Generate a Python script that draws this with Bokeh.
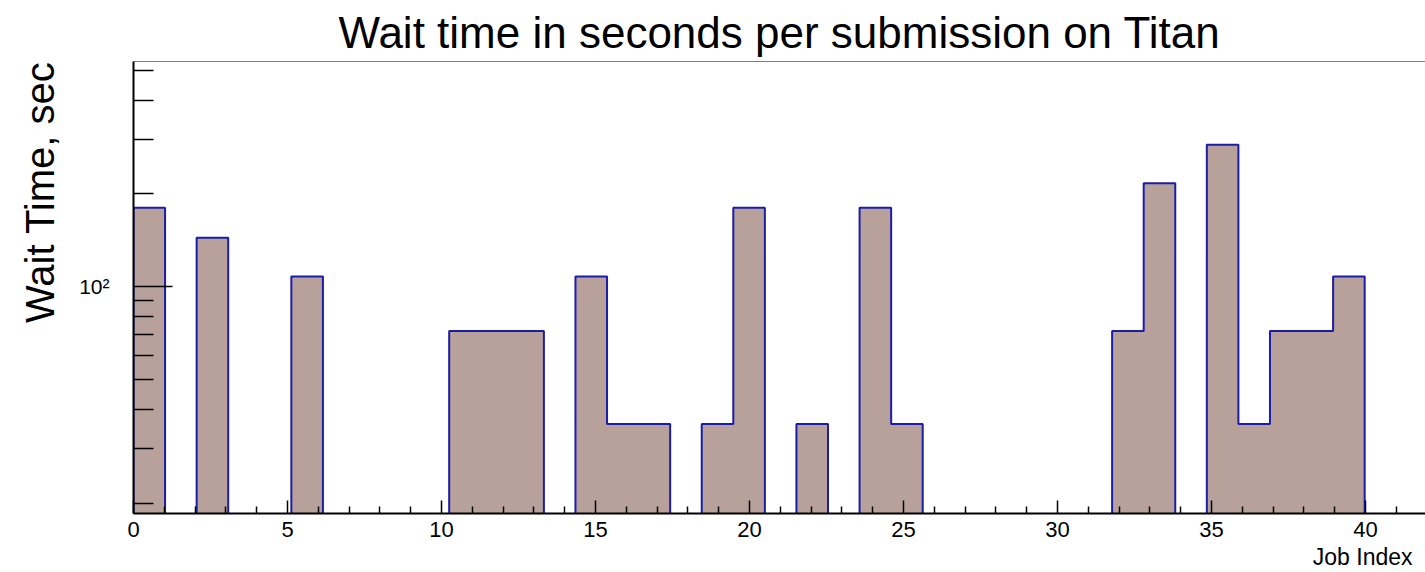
from bokeh.plotting import figure
from bokeh.models import FixedTicker, Range1d, Span, Title
from bokeh.embed import file_html
from bokeh.resources import INLINE

# Histogram: 40 bins spanning job index 0..41, wait time per bin in seconds (0 = empty)
bin_low = 0.0
bin_high = 41.0
wait_seconds = [180, 0, 144, 0, 0, 108, 0, 0, 0, 0,
                72, 72, 72, 0, 108, 36, 36, 0, 36, 180,
                0, 36, 0, 180, 36, 0, 0, 0, 0, 0,
                0, 72, 216, 0, 288, 36, 72, 72, 108, 0]
x_major = [0, 5, 10, 15, 20, 25, 30, 35, 40]
y_major = [100]
y_minor = [20, 30, 40, 50, 60, 70, 80, 90, 200, 300, 400, 500]

y_lo, y_hi = 18.5, 535.0
x_lo, x_hi = 0.0, 41.95

nbins = len(wait_seconds)
width = (bin_high - bin_low) / nbins
edges = [bin_low + i * width for i in range(nbins + 1)]

FONT = "Liberation Sans"
FILL = "#b8a19b"
EDGE = "#1c1caa"

p = figure(width=1425, height=572, y_axis_type="log",
           x_range=Range1d(x_lo, x_hi), y_range=Range1d(y_lo, y_hi),
           output_backend="svg", toolbar_location=None,
           min_border_left=133, min_border_right=0,
           min_border_top=60, min_border_bottom=59)
p.background_fill_color = "white"
p.border_fill_color = "white"
p.outline_line_color = None
p.xgrid.visible = False
p.ygrid.visible = False

# one outline path per run of consecutive non-empty bins
xs_runs, ys_runs = [], []
run_x, run_y = [], []
for i, v in enumerate(wait_seconds):
    if v > 0:
        if not run_x:
            run_x.append(edges[i]); run_y.append(y_lo)
        run_x += [edges[i], edges[i + 1]]
        run_y += [v, v]
    elif run_x:
        run_x.append(edges[i]); run_y.append(y_lo)
        xs_runs.append(run_x); ys_runs.append(run_y)
        run_x, run_y = [], []
if run_x:
    run_x.append(edges[nbins]); run_y.append(y_lo)
    xs_runs.append(run_x); ys_runs.append(run_y)

p.patches(xs_runs, ys_runs, fill_color=FILL, line_color=None)
p.multi_line(xs_runs, ys_runs, line_color=EDGE, line_width=2)

# frame top line
p.add_layout(Span(location=y_hi, dimension="width", line_color="black", line_width=1))

# title
p.title.text = "Wait time in seconds per submission on Titan"
p.title.align = "center"
p.title.text_font = FONT
p.title.text_font_size = "44px"
p.title.text_font_style = "normal"
p.title.text_color = "black"

# axes
xa = p.xaxis[0]
xa.ticker = FixedTicker(ticks=x_major,
                        minor_ticks=[t for t in range(1, 42) if t % 5 != 0])
xa.major_tick_in = 13
xa.major_tick_out = 0
xa.minor_tick_in = 7
xa.minor_tick_out = 0
xa.axis_line_width = 2
xa.major_tick_line_width = 1.5
xa.minor_tick_line_width = 1.5
xa.major_label_text_font = FONT
xa.major_label_text_font_size = "22px"
xa.major_label_text_color = "black"
xa.major_label_standoff = 8

ya = p.yaxis[0]
ya.ticker = FixedTicker(ticks=y_major, minor_ticks=y_minor)
ya.major_label_overrides = {100: "10²"}
ya.major_tick_in = 39
ya.major_tick_out = 0
ya.minor_tick_in = 20
ya.minor_tick_out = 0
ya.axis_line_width = 2
ya.major_tick_line_width = 1.5
ya.minor_tick_line_width = 1.5
ya.major_label_text_font = FONT
ya.major_label_text_font_size = "21px"
ya.major_label_text_color = "black"
ya.major_label_standoff = 24

# axis titles, aligned to the far ends of their axes
p.add_layout(Title(text="Wait Time, sec", align="right",
                   text_font=FONT, text_font_size="40px",
                   text_font_style="normal", text_color="black",
                   standoff=30), "left")
p.add_layout(Title(text="Job Index", align="right", offset=13,
                   text_font=FONT, text_font_size="23px",
                   text_font_style="normal", text_color="black",
                   standoff=4), "below")

open("out.html", "w").write(file_html(p, INLINE))
